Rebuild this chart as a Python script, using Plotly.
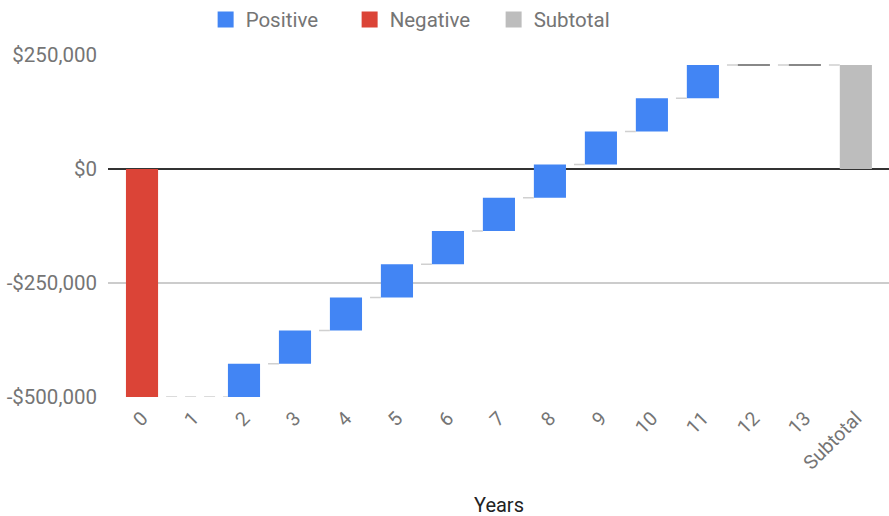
import plotly.graph_objects as go

categories = ["0", "1", "2", "3", "4", "5", "6", "7", "8", "9", "10", "11", "12", "13", "Subtotal"]
changes = [-500000, None, 72800, 72800, 72800, 72800, 72800, 72800, 72800, 72800, 72800, 72800, 0, 0]
y_tickvals = [-500000, -250000, 0, 250000]

BLUE = "#4285F4"
RED = "#DB4437"
GRAY = "#BDBDBD"
FONT = "Roboto"
W = 0.63

# running totals
starts, ends = [], []
total = 0
for v in changes:
    starts.append(total)
    if v is not None:
        total += v
    ends.append(total)

pos_x, pos_base, pos_h = [], [], []
neg_x, neg_base, neg_h = [], [], []
flat_x, flat_y = [], []
for i, v in enumerate(changes):
    if v is None:
        continue
    if v > 0:
        pos_x.append(i); pos_base.append(starts[i]); pos_h.append(v)
    elif v < 0:
        neg_x.append(i); neg_base.append(starts[i]); neg_h.append(v)
    else:
        flat_x += [i - W / 2, i + W / 2, None]
        flat_y += [ends[i], ends[i], None]

sub_idx = len(changes)

fig = go.Figure()

# connectors
con_x, con_y = [], []
drawn = [i for i, v in enumerate(changes) if v is not None] + [sub_idx]
for a, b in zip(drawn[:-1], drawn[1:]):
    con_x += [a + W / 2, b - W / 2, None]
    con_y += [ends[a], ends[a], None]
fig.add_trace(go.Scatter(x=con_x, y=con_y, mode="lines",
                         line=dict(color="#D0D0D0", width=1.5, dash="0px,8px,11px,0px"),
                         showlegend=False, hoverinfo="skip"))

fig.add_trace(go.Bar(x=pos_x, y=pos_h, base=pos_base, marker=dict(color=BLUE, line=dict(width=0)),
                     width=W, showlegend=False, name="Positive"))
fig.add_trace(go.Bar(x=neg_x, y=neg_h, base=neg_base, marker=dict(color=RED, line=dict(width=0)),
                     width=W, showlegend=False, name="Negative"))
fig.add_trace(go.Bar(x=[sub_idx], y=[total], base=[0], marker=dict(color=GRAY, line=dict(width=0)),
                     width=W, showlegend=False, name="Subtotal"))
fig.add_trace(go.Scatter(x=flat_x, y=flat_y, mode="lines", line=dict(color="#616161", width=1.5),
                         showlegend=False, hoverinfo="skip"))

# legend entries
for name, col in [("Positive", BLUE), ("Negative", RED), ("Subtotal", GRAY)]:
    fig.add_trace(go.Scatter(x=[None], y=[None], mode="markers", name=name,
                             marker=dict(symbol="square", size=21, color=col)))

def money(v):
    s = "${:,.0f}".format(abs(v))
    return "-" + s if v < 0 else s

fig.update_layout(
    width=889, height=516,
    margin=dict(l=108, r=0, t=55, b=119, autoexpand=False),
    paper_bgcolor="white", plot_bgcolor="white",
    font=dict(family=FONT, size=20, color="#757575"),
    barmode="overlay",
    showlegend=True,
    legend=dict(orientation="h", x=0.125, xanchor="left", y=1.045, yanchor="bottom",
                font=dict(family=FONT, size=20.5, color="#757575"), itemsizing="trace",
                entrywidth=99, entrywidthmode="pixels"),
    xaxis=dict(tickmode="array", tickvals=list(range(len(categories))), ticktext=categories,
               range=[-0.667, 14.65], tickangle=-45, showgrid=False, zeroline=False,
               showline=False, ticks="", ticklabelstandoff=5,
               tickfont=dict(size=19.5, color="#757575")),
    yaxis=dict(tickmode="array", tickvals=y_tickvals, ticktext=[money(v) for v in y_tickvals],
               range=[-500000, 250000], showgrid=True, gridcolor="#CCCCCC", gridwidth=1.5,
               zeroline=True, zerolinecolor="#333333", zerolinewidth=1.5, ticklabelstandoff=10,
               showline=False, ticks="", tickfont=dict(size=20.5, color="#757575")),
    annotations=[dict(text="Years", x=0.5, xref="paper", y=0, yref="paper", yshift=-108,
                      showarrow=False, font=dict(family=FONT, size=20, color="#222222"),
                      yanchor="middle")],
)

fig.write_html("out.html", config={"displayModeBar": False},
               post_script="document.body.style.margin='0px';")
